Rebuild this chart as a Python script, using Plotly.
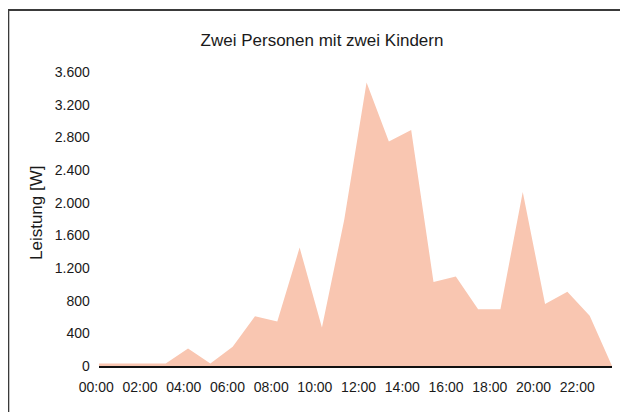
import plotly.graph_objects as go

# Data (hourly power, W)
hours = list(range(24))
leistung = [30, 30, 30, 30, 215, 30, 235, 610, 545, 1450, 470, 1790,
            3470, 2750, 2890, 1030, 1095, 695, 695, 2130, 760, 910, 615, 0]
tick_hours = list(range(0, 24, 2))
tick_labels = ["00:00", "02:00", "04:00", "06:00", "08:00", "10:00",
               "12:00", "14:00", "16:00", "18:00", "20:00", "22:00"]
y_ticks = [0, 400, 800, 1200, 1600, 2000, 2400, 2800, 3200, 3600]
y_tick_text = ["0", "400", "800", "1.200", "1.600", "2.000", "2.400",
               "2.800", "3.200", "3.600"]

# page is rendered with an 8px body margin; figure coords = page coords - 8
W, H = 620, 404
ML, MR, MT, MB = 80, 16, 64, 46
pw, ph = W - ML - MR, H - MT - MB

def px_x(p):
    return (p - ML) / pw

def px_y(p):
    return (H - MB - p) / ph

font = "Liberation Sans, Arial, Helvetica, sans-serif"
txt = "#1a1a1a"

fig = go.Figure()
fig.add_trace(go.Scatter(
    x=hours, y=leistung, mode="lines", fill="tozeroy",
    fillcolor="#f9c6b1", line=dict(width=0, color="#f9c6b1"),
    hoverinfo="x+y", showlegend=False,
))
# invisible helper trace so the label axis is drawn
fig.add_trace(go.Scatter(x=[tick_hours[0]], y=[0], xaxis="x2", yaxis="y",
                         mode="markers", marker=dict(opacity=0),
                         hoverinfo="skip", showlegend=False))

eps = 0.01
fig.update_layout(
    template="none",
    autosize=False,
    width=W, height=H,
    margin=dict(l=ML, r=MR, t=MT, b=MB, pad=0, autoexpand=False),
    paper_bgcolor="white", plot_bgcolor="rgba(0,0,0,0)",
    font=dict(family=font, size=14, color=txt),
    title=dict(text="Zwei Personen mit zwei Kindern", x=314 / W, xanchor="center",
               y=1 - 32 / H, yanchor="middle", yref="container",
               font=dict(family=font, size=17, color=txt)),
    xaxis=dict(domain=[px_x(90.8), 1], range=[hours[0], hours[-1]],
               showticklabels=False, showgrid=False, zeroline=False,
               showline=True, linecolor="#111111", linewidth=1.5,
               ticks="", fixedrange=True, automargin=False),
    xaxis2=dict(domain=[px_x(88), px_x(569.5)],
                range=[tick_hours[0] - eps, tick_hours[-1] + eps],
                anchor="y", side="bottom",
                tickmode="array", tickvals=tick_hours, ticktext=tick_labels,
                showgrid=False, zeroline=False, showline=False, ticks="",
                ticklabelstandoff=11,
                tickfont=dict(family=font, size=14, color=txt),
                fixedrange=True, automargin=False),
    yaxis=dict(range=[0, 3600], tickmode="array", tickvals=y_ticks,
               ticktext=y_tick_text, showgrid=False, zeroline=False,
               showline=False, ticks="", ticklabelstandoff=8,
               tickfont=dict(family=font, size=14, color=txt),
               fixedrange=True, automargin=False),
    annotations=[dict(text="Leistung [W]", textangle=-90, xref="paper", yref="paper",
                      x=px_x(28), y=px_y(205), xanchor="center", yanchor="middle",
                      showarrow=False,
                      font=dict(family=font, size=17, color=txt))],
    shapes=[dict(type="rect", xref="paper", yref="paper",
                 x0=px_x(0.3), x1=px_x(700), y0=px_y(480), y1=px_y(2),
                 line=dict(color="#3a3a3a", width=2), fillcolor="rgba(0,0,0,0)",
                 layer="above")],
)

fig.write_html("out.html")
